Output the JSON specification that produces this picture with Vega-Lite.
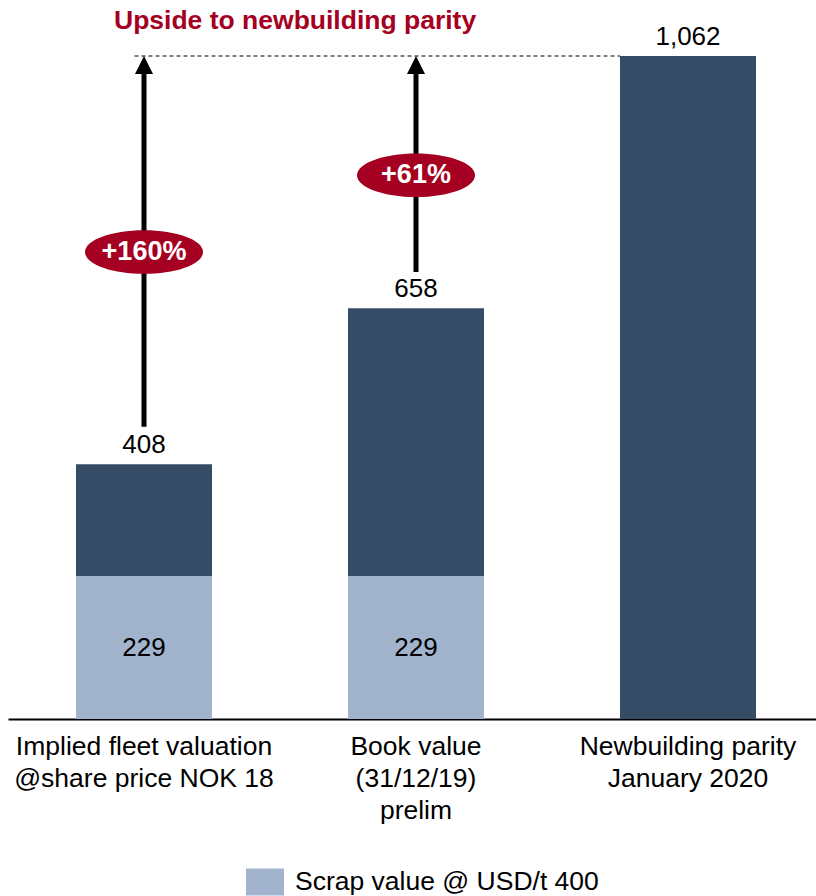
{
  "$schema": "https://vega.github.io/schema/vega-lite/v6.json",
  "width": 808,
  "height": 663,
  "autosize": {"type": "none"},
  "padding": {"left": 8, "top": 56, "right": 0, "bottom": 177},
  "config": {"view": {"stroke": null}, "font": "Liberation Sans"},
  "title": {"text": "Upside to newbuilding parity", "anchor": "start", "frame": "group", "dx": 106, "dy": 14, "fontSize": 26.5, "fontWeight": "bold", "color": "#A50021", "font": "Liberation Sans", "offset": 4},
  "encoding": {
    "x": {
      "field": "cat",
      "type": "nominal",
      "sort": null,
      "scale": {
        "domain": ["Implied fleet valuation|@share price NOK 18", "Book value|(31/12/19)|prelim", "Newbuilding parity|January 2020"],
        "paddingInner": 0.5,
        "paddingOuter": 0.2353,
        "align": 0.53125
      },
      "axis": {
        "title": null,
        "labelExpr": "split(datum.label, '|')",
        "labelAngle": 0,
        "labelFontSize": 26.5,
        "labelColor": "#000000",
        "labelFont": "Liberation Sans",
        "labelLineHeight": 32,
        "labelPadding": 14,
        "ticks": false,
        "domainColor": "#000000",
        "domainWidth": 2,
        "labelLimit": 0
      }
    }
  },
  "layer": [
    {
      "data": {"values": [
        {"cat": "Implied fleet valuation|@share price NOK 18", "series": "Scrap value @ USD/t 400", "ord": 0, "value": 229},
        {"cat": "Implied fleet valuation|@share price NOK 18", "series": "Fleet value", "ord": 1, "value": 179},
        {"cat": "Book value|(31/12/19)|prelim", "series": "Scrap value @ USD/t 400", "ord": 0, "value": 229},
        {"cat": "Book value|(31/12/19)|prelim", "series": "Fleet value", "ord": 1, "value": 429},
        {"cat": "Newbuilding parity|January 2020", "series": "Fleet value", "ord": 1, "value": 1062}
      ]},
      "mark": {"type": "bar"},
      "encoding": {
        "y": {"field": "value", "type": "quantitative", "stack": "zero", "scale": {"domain": [0, 1062], "nice": false, "zero": true}, "axis": null},
        "color": {
          "field": "series",
          "type": "nominal",
          "scale": {"domain": ["Scrap value @ USD/t 400", "Fleet value"], "range": ["#A2B4CD", "#364B65"]},
          "legend": {
            "values": ["Scrap value @ USD/t 400"],
            "title": null,
            "orient": "none",
            "legendX": 238,
            "legendY": 807,
            "padding": 0,
            "symbolType": "M-1,-0.71L1,-0.71L1,0.71L-1,0.71Z",
            "symbolSize": 1444,
            "symbolStrokeWidth": 0,
            "labelFontSize": 26.5,
            "labelFont": "Liberation Sans",
            "labelColor": "#000000",
            "labelOffset": 11,
            "labelLimit": 0
          }
        },
        "order": {"field": "ord", "type": "quantitative"}
      }
    },
    {
      "data": {"values": [
        {"cat": "Implied fleet valuation|@share price NOK 18", "total": 408, "label": "408"},
        {"cat": "Book value|(31/12/19)|prelim", "total": 658, "label": "658"},
        {"cat": "Newbuilding parity|January 2020", "total": 1062, "label": "1,062"}
      ]},
      "mark": {"type": "text", "baseline": "alphabetic", "dy": -11, "fontSize": 26, "color": "#000000"},
      "encoding": {
        "y": {"field": "total", "type": "quantitative"},
        "text": {"field": "label"}
      }
    },
    {
      "data": {"values": [
        {"cat": "Implied fleet valuation|@share price NOK 18", "value": 229},
        {"cat": "Book value|(31/12/19)|prelim", "value": 229}
      ]},
      "mark": {"type": "text", "baseline": "middle", "fontSize": 26, "color": "#000000"},
      "encoding": {
        "y": {"field": "value", "type": "quantitative", "stack": "zero", "bandPosition": 0.5},
        "text": {"field": "value"}
      }
    },
    {
      "data": {"values": [
        {"cat": "Implied fleet valuation|@share price NOK 18", "from": 468, "to": 1040},
        {"cat": "Book value|(31/12/19)|prelim", "from": 716, "to": 1040}
      ]},
      "mark": {"type": "rule", "strokeWidth": 5, "color": "#000000"},
      "encoding": {
        "y": {"field": "from", "type": "quantitative"},
        "y2": {"field": "to"}
      }
    },
    {
      "data": {"values": [
        {"cat": "Implied fleet valuation|@share price NOK 18", "head": 1047.5},
        {"cat": "Book value|(31/12/19)|prelim", "head": 1047.5}
      ]},
      "mark": {"type": "point", "shape": "M0,-1L1,1L-1,1Z", "size": 324, "filled": true, "color": "#000000", "opacity": 1},
      "encoding": {
        "y": {"field": "head", "type": "quantitative"}
      }
    },
    {
      "data": {"values": [
        {"cat": "Implied fleet valuation|@share price NOK 18", "cat2": "Newbuilding parity|January 2020", "value": 1062}
      ]},
      "mark": {"type": "rule", "strokeWidth": 1.2, "strokeDash": [4, 3], "color": "#000000"},
      "encoding": {
        "x": {"field": "cat", "type": "nominal", "bandPosition": 0.43},
        "x2": {"field": "cat2", "bandPosition": 0},
        "y": {"field": "value", "type": "quantitative"}
      }
    },
    {
      "data": {"values": [
        {"cat": "Implied fleet valuation|@share price NOK 18", "pos": 748, "label": "+160%"},
        {"cat": "Book value|(31/12/19)|prelim", "pos": 871, "label": "+61%"}
      ]},
      "encoding": {
        "y": {"field": "pos", "type": "quantitative"}
      },
      "layer": [
        {
          "mark": {"type": "point", "shape": "M-1,0C-1,-0.2044,-0.5523,-0.37,0,-0.37C0.5523,-0.37,1,-0.2044,1,0C1,0.2044,0.5523,0.37,0,0.37C-0.5523,0.37,-1,0.2044,-1,0Z", "size": 13924, "filled": true, "color": "#A50021", "opacity": 1}
        },
        {
          "mark": {"type": "text", "baseline": "middle", "fontSize": 27, "fontWeight": "bold", "color": "#FFFFFF"},
          "encoding": {"text": {"field": "label"}}
        }
      ]
    }
  ]
}
